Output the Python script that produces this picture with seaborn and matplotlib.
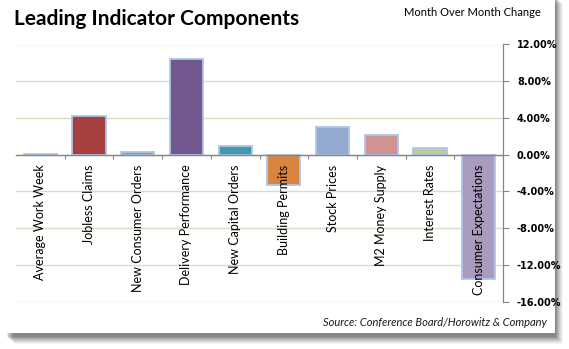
import matplotlib
matplotlib.use("Agg")
import matplotlib.pyplot as plt
from matplotlib.patches import Rectangle
from matplotlib.ticker import FuncFormatter, FixedLocator
import seaborn as sns
import pandas as pd

categories = ["Average Work Week", "Jobless Claims", "New Consumer Orders",
              "Delivery Performance", "New Capital Orders", "Building Permits",
              "Stock Prices", "M2 Money Supply", "Interest Rates",
              "Consumer Expectations"]
values = [0.08, 4.2, 0.25, 10.4, 1.0, -3.3, 3.0, 2.2, 0.75, -13.5]
colors = ["#f2f2f2", "#a5403d", "#8fa94e", "#71588f", "#4198af",
          "#db843d", "#93a9cf", "#d19392", "#b9cd96", "#a99bbd"]
yticks = [12, 8, 4, 0, -4, -8, -12, -16]

title = "Leading Indicator Components"
subtitle = "Month Over Month Change"
source = "Source: Conference Board/Horowitz & Company"

sns.set_theme(style="white")
plt.rcParams["font.family"] = ["Lato", "DejaVu Sans"]

W, H = 569, 349
fig = plt.figure(figsize=(W / 100, H / 100), dpi=100)
fig.patch.set_facecolor("white")

def fx(px):
    return px / W

def fy(py):
    return 1 - py / H

# panel shadow
for k, a in enumerate([0.10, 0.10, 0.09, 0.08, 0.07, 0.06, 0.05, 0.04]):
    off = 1 + k
    fig.add_artist(Rectangle((fx(6 + off), fy(333 + off + 3)), fx(549), fy(0) - fy(340),
                             transform=fig.transFigure, facecolor="black",
                             edgecolor="none", alpha=a, zorder=-3))
fig.add_artist(Rectangle((fx(6), fy(333)), fx(549), fy(0) - fy(333) + 0.01,
                         transform=fig.transFigure, facecolor="white",
                         edgecolor="none", zorder=-2))

ax = fig.add_axes([fx(16), fy(301.7), fx(503) - fx(16), fy(44.5) - fy(301.7)])
ax.set_zorder(2)
ax.set_facecolor("none")

df = pd.DataFrame({"cat": categories, "val": values})
sns.barplot(data=df, x="cat", y="val", hue="cat", palette=colors, legend=False,
            width=0.68, saturation=1, ax=ax, zorder=3)
for p in ax.patches:
    p.set_edgecolor("#adc6ea")
    p.set_linewidth(1.3)
    p.set_zorder(3)

ax.set_xlim(-0.5, len(categories) - 0.5)
ax.set_ylim(-16, 12)
ax.set_xlabel("")
ax.set_ylabel("")

# y axis on right
ax.yaxis.tick_right()
ax.yaxis.set_major_locator(FixedLocator(yticks))
ax.yaxis.set_major_formatter(FuncFormatter(lambda v, p: f"{v:.2f}%"))
ax.tick_params(axis="y", direction="out", length=4, width=0.8, color="#868686",
               labelsize=7, labelcolor="black", pad=6)
for t in ax.get_yticklabels():
    t.set_fontfamily("DejaVu Sans")
    t.set_fontweight("bold")

# grid
ax.grid(axis="y", color="#dcdcc6", linewidth=1.0, zorder=0)
ax.grid(axis="x", visible=False)

for s in ["left", "top"]:
    ax.spines[s].set_visible(False)
ax.spines["right"].set_color("#868686")
ax.spines["right"].set_linewidth(0.9)
ax.spines["bottom"].set_position(("data", 0))
ax.spines["bottom"].set_color("#868686")
ax.spines["bottom"].set_linewidth(1.0)
ax.spines["bottom"].set_zorder(4)

# x ticks: labels below zero line, boundary tick marks
ax.set_xticks(range(len(categories)))
ax.set_xticks([i - 0.5 for i in range(len(categories))][1:], minor=True)
ax.tick_params(axis="x", which="major", length=0, labelrotation=90, labelsize=9,
               pad=7, labelcolor="black")
ax.tick_params(axis="x", which="minor", bottom=True, direction="out", length=3,
               width=0.8, color="#868686")
ax.xaxis.set_zorder(5)

fig.text(fx(14), fy(19), title, fontsize=15, fontweight="bold", color="black",
         va="center", ha="left")
fig.text(fx(541), fy(13), subtitle, fontsize=8, color="black", va="center", ha="right")
fig.text(fx(547), fy(323), source, fontsize=8, style="italic", color="#1a1a1a",
         va="center", ha="right")

fig.savefig("out.png", dpi=100)
